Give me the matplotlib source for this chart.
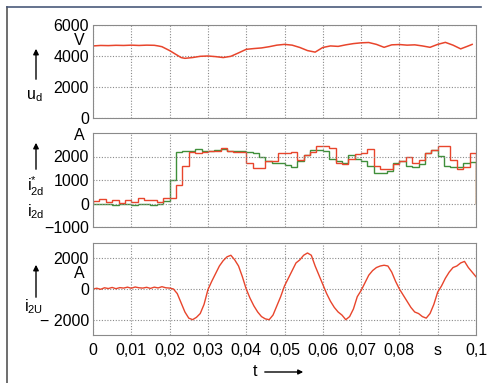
import numpy as np
import matplotlib
matplotlib.use("Agg")
import matplotlib.pyplot as plt
from matplotlib.lines import Line2D

plt.rcParams["font.family"] = ["Liberation Sans", "DejaVu Sans"]

# ---------- data ----------
# u_d (V)
ud_t = [0, 0.002, 0.004, 0.006, 0.008, 0.010, 0.012, 0.014, 0.016, 0.017, 0.018,
        0.020, 0.022, 0.023, 0.024, 0.026, 0.028, 0.030, 0.032, 0.034, 0.036, 0.038,
        0.040, 0.042, 0.044, 0.046, 0.048, 0.050, 0.052, 0.054, 0.056, 0.058, 0.060,
        0.062, 0.064, 0.066, 0.068, 0.070, 0.072, 0.074, 0.076, 0.078, 0.080, 0.082,
        0.084, 0.086, 0.088, 0.090, 0.092, 0.094, 0.096, 0.098, 0.099]
ud_v = [4650, 4680, 4670, 4690, 4680, 4700, 4680, 4700, 4690, 4650, 4600,
        4350, 4050, 3900, 3850, 3900, 3980, 4000, 3960, 3900, 3980, 4200,
        4430, 4480, 4520, 4600, 4700, 4750, 4700, 4550, 4350, 4250, 4550,
        4650, 4620, 4720, 4800, 4850, 4870, 4750, 4560, 4720, 4740, 4700,
        4720, 4650, 4560, 4750, 4880, 4700, 4460, 4650, 4750]

# i_2d (red, actual) and i_2d* (green, reference), one value per 1/600 s step
i2d = [100, 200, 50, 130, 30, 130, 60, 220, 160, 150, 50, 220,
       250, 800, 1600, 2200, 2150, 2200, 2230, 2230, 2370, 2250, 2200, 2200,
       1730, 1520, 1520, 1800, 1800, 2150, 2150, 2180, 1850, 2050, 2200, 2460,
       2460, 2370, 1730, 1660, 1900, 2100, 2170, 2310, 1600, 1450, 1450, 1660,
       1820, 1960, 1730, 1870, 2170, 2260, 2450, 2450, 1850, 1470, 1560, 2160]
i2d_ref = [-20, -40, -30, -50, -40, -30, -50, -40, -30, -50, -40, 100,
           1000, 2200, 2250, 2250, 2300, 2250, 2250, 2280, 2300, 2220, 2250, 2250,
           2200, 2170, 1970, 1800, 1730, 1730, 1620, 1550, 1800, 2050, 2270, 2270,
           2230, 1900, 1800, 1730, 2050, 1900, 1820, 1600, 1300, 1300, 1380, 1730,
           1820, 1600, 1540, 1700, 2170, 2260, 2030, 1600, 1540, 1540, 1730, 1760]

# i_2U (A), sampled every 1 ms
i2u = [0, 50, -20, 80, 30, 100, 20, 90, 60, 120, 50, 130, 80, 60, 110, 40, 120, 70,
       150, 80, 60, 0, -300, -900, -1500, -1900, -2000, -1850, -1600, -1000,
       -50, 500, 1000, 1500, 1850, 2100, 2200, 1900, 1500, 800,
       0, -600, -1100, -1500, -1800, -1950, -2000, -1700, -1100, -500,
       200, 700, 1200, 1700, 1900, 2200, 2350, 2200, 1500, 900,
       300, -300, -800, -1200, -1500, -1700, -2000, -1800, -1300, -500,
       -100, 400, 900, 1200, 1400, 1500, 1550, 1500, 1100, 500,
       0, -400, -800, -1200, -1500, -1600, -1800, -1900, -1600, -1000,
       -200, 200, 700, 1100, 1400, 1500, 1700, 1800, 1400, 1100, 800]

x_ticks = [0, 0.01, 0.02, 0.03, 0.04, 0.05, 0.06, 0.07, 0.08, 0.09, 0.1]
x_labels = ["0", "0,01", "0,02", "0,03", "0,04", "0,05", "0,06", "0,07", "0,08", "s", "0,1"]

RED = "#e8452c"
GREEN = "#3f8f3a"
GRID = "#8a8a8a"
FS = 11.5

fig = plt.figure(figsize=(4.89, 3.83), dpi=100)
W, H = 489, 383


def make_ax(top, bottom):
    ax = fig.add_axes([93 / W, 1 - bottom / H, (476 - 93) / W, (bottom - top) / H])
    ax.set_xlim(0, 0.1)
    ax.set_xticks(x_ticks)
    ax.grid(True, color=GRID, linestyle=(0, (1, 1.5)), linewidth=0.8)
    ax.tick_params(length=0, labelsize=FS, pad=3)
    for s in ax.spines.values():
        s.set_color(GRID)
        s.set_linewidth(0.8)
        s.set_linestyle((0, (1, 1)))
    return ax


ax1 = make_ax(25, 118)
ax2 = make_ax(133, 227)
ax3 = make_ax(243, 335)

# panel 1
ax1.plot(ud_t, ud_v, color=RED, linewidth=1.1)
ax1.set_ylim(0, 6000)
ax1.set_yticks([0, 2000, 4000, 6000])
ax1.set_yticklabels(["0", "2000", "4000", "6000"])
ax1.set_xticklabels([])
ax1.text(-0.0022, 5000, "V", ha="right", va="center", fontsize=FS)

# panel 2
edges = np.arange(len(i2d) + 1) / 600
ax2.stairs(i2d_ref, edges, color=GREEN, linewidth=1.0)
ax2.stairs(i2d, edges, color=RED, linewidth=1.0)
ax2.set_ylim(-1000, 3000)
ax2.set_yticks([-1000, 0, 1000, 2000])
ax2.set_yticklabels(["\u22121000", "0", "1000", "2000"])
ax2.set_xticklabels([])
ax2.text(-0.0022, 2900, "A", ha="right", va="center", fontsize=FS)

# panel 3
t3 = np.arange(len(i2u)) * 0.001
ax3.plot(t3, i2u, color=RED, linewidth=1.0)
ax3.set_ylim(-3000, 3000)
ax3.set_yticks([-2000, 0, 2000])
ax3.set_yticklabels(["\u2212 2000", "0", "2000"])
ax3.set_xticklabels(x_labels)
ax3.tick_params(axis="x", pad=6)
ax3.text(-0.0022, 1000, "A", ha="right", va="center", fontsize=FS)

# axis labels with arrows
def arrow(x, y0, y1):
    fig.patches.append(matplotlib.patches.FancyArrowPatch(
        (x / W, 1 - y0 / H), (x / W, 1 - y1 / H), transform=fig.transFigure,
        arrowstyle="-|>", mutation_scale=8, color="black", linewidth=1.0))

arrow(36, 82, 46)
fig.text(34 / W, 1 - 96 / H, r"u$_\mathregular{d}$", ha="center", va="center", fontsize=11.5)
arrow(36, 172, 140)
fig.text(36 / W, 1 - 186 / H, r"i$^\mathregular{*}_\mathregular{2d}$", ha="center", va="center", fontsize=11.5)
fig.text(36 / W, 1 - 212 / H, r"i$_\mathregular{2d}$", ha="center", va="center", fontsize=11.5)
arrow(36, 300, 262)
fig.text(34 / W, 1 - 307 / H, r"i$_\mathregular{2U}$", ha="center", va="center", fontsize=11.5)

# time arrow
fig.text(255 / W, 1 - 372 / H, "t", ha="center", va="center", fontsize=11.5)
fig.patches.append(matplotlib.patches.FancyArrowPatch(
    (262 / W, 1 - 372 / H), (306 / W, 1 - 372 / H), transform=fig.transFigure,
    arrowstyle="-|>", mutation_scale=7, color="black", linewidth=1.0))

# outer frame
fig.add_artist(Line2D([7 / W, 7 / W], [0, 1 - 7 / H], color="#555555", linewidth=1.2))
fig.add_artist(Line2D([7 / W, 481 / W], [1 - 7 / H, 1 - 7 / H], color="#4a5a7a", linewidth=1.2))

fig.savefig("out.png", dpi=100)
